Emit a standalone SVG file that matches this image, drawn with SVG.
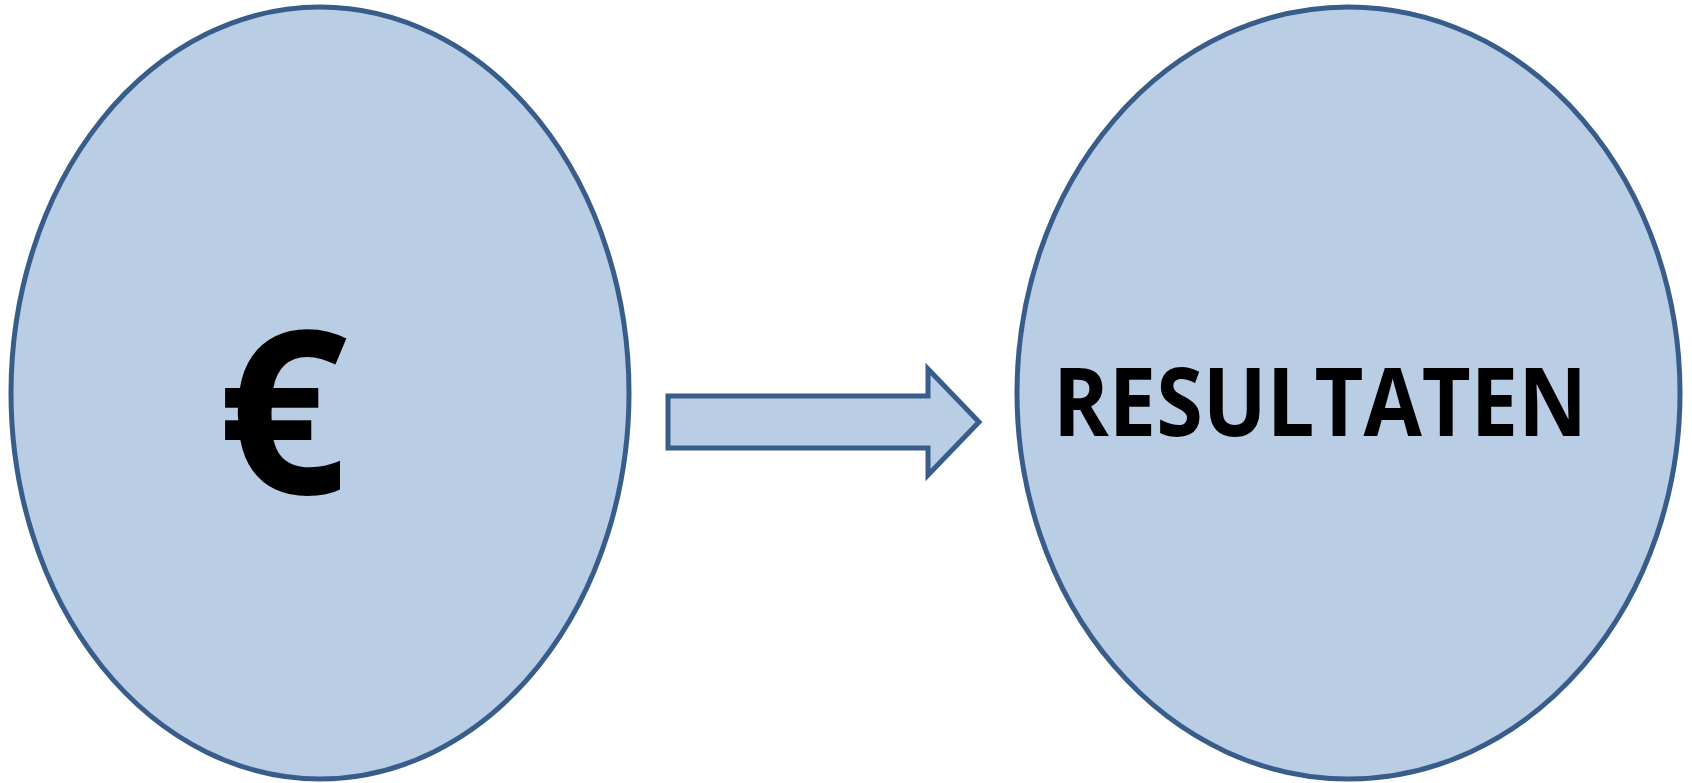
<svg xmlns="http://www.w3.org/2000/svg" width="1692" height="783" viewBox="0 0 1692 783">
<style>
.shape{fill:#B9CDE5;stroke:#385D8A;stroke-width:5}
.lbl{font-family:"Open Sans","Noto Sans","Liberation Sans",sans-serif;font-weight:bold;fill:#000}
</style>
<rect width="1692" height="783" fill="#FFFFFF"/>
<g id="node-euro">
<ellipse class="shape" cx="320" cy="393" rx="309" ry="386"/>
<text class="lbl" x="283" y="494" font-size="228" text-anchor="middle">€</text>
</g>
<g id="connectors">
<path class="shape" d="M668,396 L928,396 L928,369 L979,422 L928,475 L928,448 L668,448 Z"/>
</g>
<g id="node-resultaten">
<ellipse class="shape" cx="1348.5" cy="393" rx="331.5" ry="386"/>
<text class="lbl" x="1053" y="436" font-size="95" textLength="534" lengthAdjust="spacingAndGlyphs">RESULTATEN</text>
</g>
</svg>
